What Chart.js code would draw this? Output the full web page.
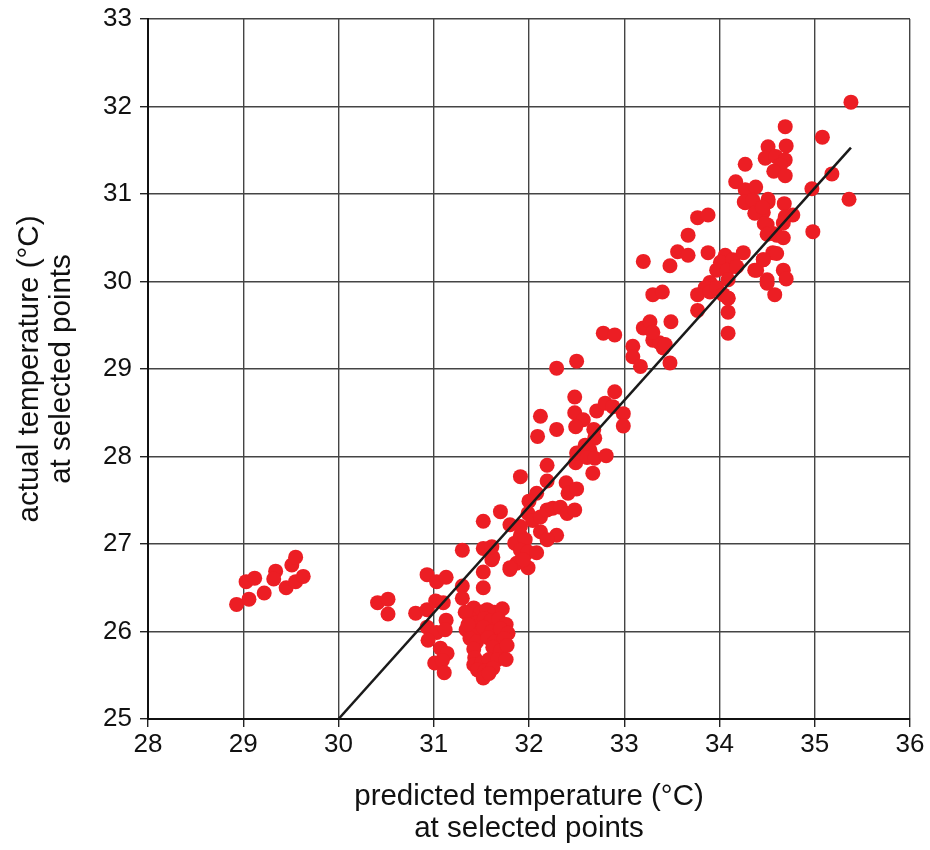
<!DOCTYPE html>
<html>
<head>
<meta charset="utf-8">
<script src="https://cdn.jsdelivr.net/npm/chart.js"></script>
<style>
  body { margin: 0; background: #fff; }
  #wrap { width: 930px; height: 850px; }
</style>
</head>
<body>
<div id="wrap"><canvas id="myChart"></canvas></div>
<script>
// predicted (x) / actual (y) temperature at selected points
const predicted = [
  28.93, 29.03, 29.06, 29.12, 29.22, 29.34, 29.32, 29.45, 29.51, 29.55, 29.55, 29.63,
  30.41, 30.52, 30.52, 30.81, 30.93, 31.03, 31.13, 30.93, 31.02, 31.10, 31.13, 30.93,
  31.03, 31.12, 30.94, 31.07, 31.14, 31.01, 31.09, 31.11, 31.30, 31.30, 31.52, 31.52,
  31.61, 31.80, 31.87,
  31.42, 31.49, 31.56, 31.64, 31.72, 31.38, 31.45, 31.53, 31.60, 31.68, 31.76, 31.34,
  31.44, 31.52, 31.61, 31.70, 31.78, 31.38, 31.45, 31.57, 31.64, 31.74, 31.42, 31.43,
  31.62, 31.70, 31.77, 31.42, 31.50, 31.58, 31.67, 31.76, 31.46, 31.54, 31.62, 31.52,
  31.58, 31.33, 31.36,
  32.19, 32.49, 32.67, 31.91, 32.19, 32.39, 32.41, 32.50, 32.08, 32.00, 31.70, 31.52,
  31.80, 31.99, 32.04, 32.12, 32.19, 32.25, 32.33, 32.40, 32.48, 32.12, 32.29, 32.19,
  31.91, 31.85, 31.96, 31.91, 31.99, 32.08, 31.52, 31.62, 31.30, 31.80, 31.99, 31.94,
  31.61, 31.91,
  32.29, 32.50, 32.48, 32.90, 32.12, 32.48, 32.57, 32.71, 32.80, 32.88, 32.99, 32.99,
  32.09, 32.29, 32.49, 32.68, 32.69, 32.59, 32.64, 32.50, 32.61, 32.69, 32.81, 32.78,
  33.09, 33.09, 33.17, 33.30, 33.41, 33.48, 33.37, 33.43,
  33.77, 33.88, 33.67, 33.56, 33.67, 33.20, 33.48, 33.88, 34.06, 34.01, 34.14, 34.25,
  33.97, 34.08, 34.18, 34.09, 33.90, 33.85, 33.77, 33.90, 33.97, 34.04, 34.09, 33.77,
  34.09, 33.30, 33.40, 33.20, 33.27, 33.49, 33.30, 32.90, 34.09, 34.39, 34.50, 34.46,
  34.56, 34.58, 34.50, 34.56, 34.46, 34.37, 34.27, 34.51,
  35.38, 34.69, 35.08, 34.70, 34.51, 34.48, 34.59, 34.69, 34.64, 34.57, 34.69, 34.27,
  34.17, 35.18, 34.97, 35.36, 34.27, 34.38, 34.26, 34.35, 34.51, 34.38, 34.45, 34.68,
  34.77, 34.69, 34.47, 34.67, 34.50, 34.60, 34.67, 34.98, 34.60, 34.46, 34.37, 34.67,
  34.70, 34.50, 34.09
];
const actual = [
  26.31, 26.57, 26.37, 26.61, 26.44, 26.69, 26.60, 26.50, 26.76, 26.85, 26.57, 26.63,
  26.33, 26.37, 26.20, 26.21, 26.65, 26.57, 26.62, 26.25, 26.35, 26.33, 26.13, 26.05,
  25.99, 26.02, 25.90, 25.81, 25.75, 25.64, 25.67, 25.53, 26.52, 26.38, 26.68, 26.50,
  26.82, 26.71, 26.78,
  26.27, 26.22, 26.25, 26.22, 26.26, 26.15, 26.10, 26.15, 26.12, 26.14, 26.08, 26.02,
  26.00, 26.05, 26.00, 26.03, 25.98, 25.92, 25.88, 25.93, 25.88, 25.92, 25.80, 25.70,
  25.82, 25.78, 25.84, 25.62, 25.64, 25.68, 25.68, 25.68, 25.56, 25.55, 25.58, 25.47,
  25.52, 26.22, 26.08,
  27.90, 27.93, 27.81, 27.77, 27.72, 27.70, 27.58, 27.63, 27.58, 27.49, 27.37, 27.26,
  27.22, 27.35, 27.27, 27.31, 27.39, 27.41, 27.42, 27.35, 27.39, 27.14, 27.10, 27.05,
  27.10, 27.01, 27.05, 26.93, 26.91, 26.90, 26.95, 26.85, 26.93, 26.73, 26.73, 26.82,
  26.97, 27.20,
  29.01, 29.09, 28.68, 28.74, 28.46, 28.50, 28.42, 28.52, 28.61, 28.57, 28.49, 28.35,
  28.23, 28.31, 28.34, 28.31, 28.21, 28.13, 28.07, 28.04, 27.99, 27.98, 28.01, 29.41,
  29.26, 29.14, 29.03, 29.33, 29.24, 29.07, 29.30, 29.28,
  30.73, 30.76, 30.53, 30.34, 30.30, 30.23, 30.18, 30.33, 30.30, 30.22, 30.25, 30.33,
  30.13, 30.13, 30.17, 30.02, 29.99, 29.93, 29.85, 29.88, 29.93, 29.85, 29.81, 29.67,
  29.65, 29.85, 29.88, 29.47, 29.54, 29.54, 29.42, 29.39, 29.41, 30.13, 30.02, 30.25,
  30.33, 29.85, 30.65, 30.55, 30.79, 30.78, 30.90, 30.91,
  32.05, 31.77, 31.65, 31.55, 31.54, 31.41, 31.43, 31.39, 31.33, 31.26, 31.21, 31.34,
  31.14, 31.23, 31.06, 30.94, 31.05, 31.08, 30.91, 30.93, 30.94, 30.79, 30.85, 30.89,
  30.76, 30.74, 30.66, 30.67, 30.54, 30.53, 30.50, 30.57, 30.32, 30.25, 30.13, 30.13,
  30.03, 29.98, 29.81
];
// fitted line end points
const fitX = [30.0, 35.38];
const fitY = [25.0, 31.53];
const xTicks = [28, 29, 30, 31, 32, 33, 34, 35, 36];
const yTicks = [25, 26, 27, 28, 29, 30, 31, 32, 33];

const points = predicted.map((x, i) => ({ x: x, y: actual[i] }));
const fitLine = fitX.map((x, i) => ({ x: x, y: fitY[i] }));

const tickFont = { family: 'Liberation Sans, Arial, sans-serif', size: 26 };
const titleFont = { family: 'Liberation Sans, Arial, sans-serif', size: 29.5, lineHeight: 1.085 };
const ctx = document.getElementById('myChart');

new Chart(ctx, {
  type: 'scatter',
  data: {
    datasets: [{
      label: 'points',
      data: points,
      backgroundColor: 'rgb(236,30,36)',
      borderWidth: 0,
      pointRadius: 7.5,
      order: 2
    }, {
      type: 'line',
      label: 'fit',
      data: fitLine,
      borderColor: '#1a1a1a',
      borderWidth: 2.5,
      pointRadius: 0,
      fill: false,
      order: 1
    }]
  },
  options: {
    responsive: true,
    maintainAspectRatio: false,
    animation: false,
    layout: { padding: { top: 19, right: 20, left: 0, bottom: 0 } },
    plugins: { legend: { display: false }, tooltip: { enabled: false } },
    scales: {
      x: {
        type: 'linear',
        min: 28, max: 36,
        afterBuildTicks: s => { s.ticks = xTicks.map(v => ({ value: v })); },
        afterFit: s => { s.height = 131; s.paddingLeft = 0; s.paddingRight = 0; },
        ticks: { color: '#111', font: tickFont, padding: 2 },
        grid: { color: '#444', lineWidth: 1.4, tickLength: 8, tickColor: '#222' },
        border: { color: '#111', width: 2 },
        title: {
          display: true,
          text: ['predicted temperature (°C)', 'at selected points'],
          color: '#111', font: titleFont, padding: { top: 4, bottom: 5 }
        }
      },
      y: {
        type: 'linear',
        min: 25, max: 33,
        afterBuildTicks: s => { s.ticks = yTicks.map(v => ({ value: v })); },
        afterFit: s => { s.width = 148; s.paddingTop = 0; s.paddingBottom = 0; },
        ticks: { color: '#111', font: tickFont, padding: 8 },
        grid: { color: '#444', lineWidth: 1.4, tickLength: 8, tickColor: '#222' },
        border: { color: '#111', width: 2 },
        title: {
          display: true,
          text: ['actual temperature (°C)', 'at selected points'],
          color: '#111', font: titleFont, padding: { top: 14, bottom: 4 }
        }
      }
    }
  }
});
</script>
</body>
</html>
